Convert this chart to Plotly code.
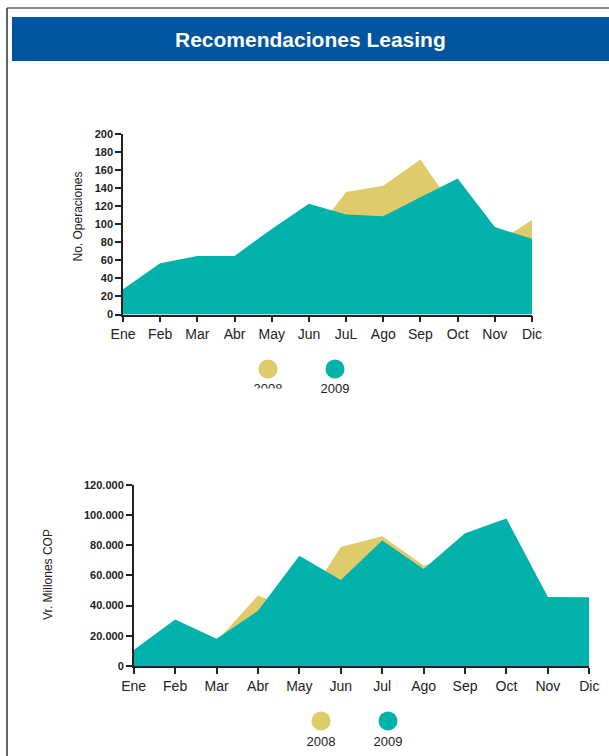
import plotly.graph_objects as go

# Month labels for each panel
meses_op = ["Ene", "Feb", "Mar", "Abr", "May", "Jun", "JuL", "Ago", "Sep", "Oct", "Nov", "Dic"]
meses_vr = ["Ene", "Feb", "Mar", "Abr", "May", "Jun", "Jul", "Ago", "Sep", "Oct", "Nov", "Dic"]

# Number of leasing operations per month
op_2008 = [20, 45, 55, 60, 75, 82, 136, 143, 172, 112, 78, 105]
op_2009 = [28, 57, 65, 65, 95, 123, 111, 109, 130, 151, 97, 84]

# Value in millions of COP per month
vr_2008 = [8000, 22000, 16300, 46600, 36000, 78800, 85800, 66600, 73000, 80000, 40000, 42000]
vr_2009 = [10600, 30800, 18100, 36500, 73000, 57000, 83100, 64200, 87800, 97600, 45700, 45500]

series_names = ["2008", "2009"]
series_colors = ["#DFCB6A", "#00B2AA"]

W, H = 609, 756
SANS = "Liberation Sans, Arial, sans-serif"
INK = "#222222"


def px_x(x):
    return x / W


def px_y(y):
    return 1 - y / H


fig = go.Figure()

idx = list(range(12))
for name, vals, col in zip(series_names, [op_2008, op_2009], series_colors):
    fig.add_trace(go.Scatter(x=idx, y=vals, name=name, mode="none", fill="tozeroy",
                             fillcolor=col, xaxis="x", yaxis="y", showlegend=False,
                             hoverinfo="skip"))
for name, vals, col in zip(series_names, [vr_2008, vr_2009], series_colors):
    fig.add_trace(go.Scatter(x=idx, y=vals, name=name, mode="none", fill="tozeroy",
                             fillcolor=col, xaxis="x2", yaxis="y2", showlegend=False,
                             hoverinfo="skip"))

# Legend rows drawn on a full-page overlay axis measured in pixels
legend_rows = [(369, 390, [268, 335]), (721, 743, [321, 388])]
for cy, ty, xs in legend_rows:
    fig.add_trace(go.Scatter(x=xs, y=[cy, cy], mode="markers",
                             marker=dict(size=19, color=series_colors, line=dict(width=0)),
                             xaxis="x3", yaxis="y3", showlegend=False, hoverinfo="skip"))
    fig.add_trace(go.Scatter(x=xs, y=[ty, ty], mode="text", text=series_names,
                             textposition="middle center",
                             textfont=dict(family=SANS, size=13, color=INK),
                             xaxis="x3", yaxis="y3", showlegend=False, hoverinfo="skip"))

axis_common = dict(showline=True, linecolor=INK, linewidth=1.5, ticks="outside",
                   ticklen=6, tickwidth=1.5, tickcolor=INK, showgrid=False,
                   zeroline=False, fixedrange=True, automargin=False)

fig.update_layout(
    template="none",
    width=W, height=H,
    margin=dict(l=0, r=0, t=0, b=0, pad=0, autoexpand=False),
    paper_bgcolor="white", plot_bgcolor="rgba(0,0,0,0)",
    separators=",.",
    xaxis=dict(domain=[px_x(123), px_x(532)], range=[0, 11], tickmode="array",
               tickvals=idx, ticktext=meses_op, anchor="y",
               tickfont=dict(family=SANS, size=14, color=INK), **axis_common),
    yaxis=dict(domain=[px_y(314.5), px_y(134.3)], range=[0, 200], dtick=20, anchor="x",
               tickfont=dict(family=SANS, size=11, color=INK, weight="bold"), **axis_common),
    xaxis2=dict(domain=[px_x(133.7), px_x(589.3)], range=[0, 11], tickmode="array",
                tickvals=idx, ticktext=meses_vr, anchor="y2",
                tickfont=dict(family=SANS, size=14, color=INK), **axis_common),
    yaxis2=dict(domain=[px_y(666), px_y(484.7)], range=[0, 120000], dtick=20000,
                tickformat=",.0f", anchor="x2",
                tickfont=dict(family=SANS, size=11, color=INK, weight="bold"), **axis_common),
    xaxis3=dict(domain=[0, 1], range=[0, W], visible=False, anchor="y3", fixedrange=True),
    yaxis3=dict(domain=[0, 1], range=[H, 0], visible=False, anchor="x3", fixedrange=True),
    shapes=[
        # page frame
        dict(type="line", xref="paper", yref="paper", x0=px_x(7), x1=1, y0=px_y(8), y1=px_y(8),
             line=dict(color="#8a8a8a", width=2), layer="below"),
        dict(type="line", xref="paper", yref="paper", x0=px_x(7), x1=px_x(7), y0=px_y(8), y1=0,
             line=dict(color="#333333", width=1.5), layer="below"),
        # title band
        dict(type="rect", xref="paper", yref="paper", x0=px_x(12), x1=1, y0=px_y(61), y1=px_y(17),
             fillcolor="#0054A0", line=dict(width=0), layer="below"),
        # mask trimming the lower part of the first upper legend label
        dict(type="rect", xref="x3", yref="y3", x0=248, x1=292, y0=388.5, y1=402,
             fillcolor="white", line=dict(width=0), layer="above"),
    ],
    annotations=[
        dict(text="<b>Recomendaciones Leasing</b>", xref="paper", yref="paper",
             x=px_x(310), y=px_y(39.5), showarrow=False, xanchor="center", yanchor="middle",
             font=dict(family=SANS, size=21, color="white")),
        dict(text="No. Operaciones", xref="paper", yref="paper", x=px_x(77.5), y=px_y(217),
             showarrow=False, textangle=-90, xanchor="center", yanchor="middle",
             font=dict(family=SANS, size=12, color=INK)),
        dict(text="Vr. Millones COP", xref="paper", yref="paper", x=px_x(48), y=px_y(575),
             showarrow=False, textangle=-90, xanchor="center", yanchor="middle",
             font=dict(family=SANS, size=12, color=INK)),
    ],
)

fig.write_html("out.html")
